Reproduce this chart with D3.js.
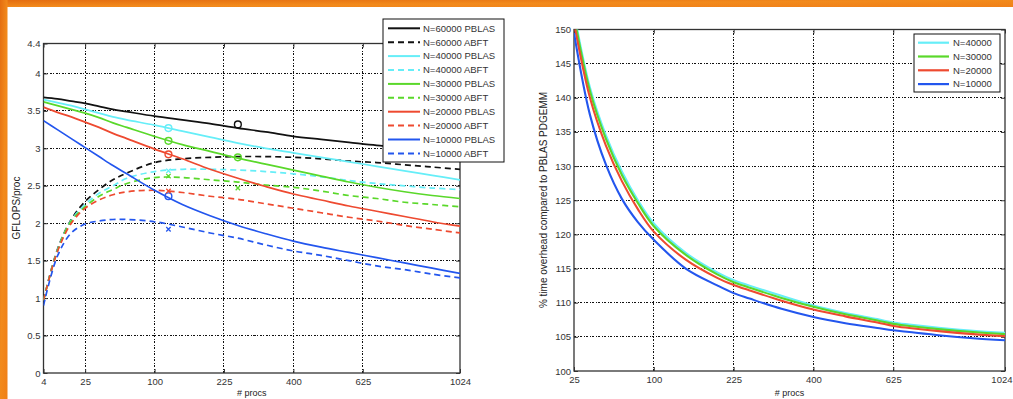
<!DOCTYPE html>
<html>
<head>
<meta charset="utf-8">
<script src="https://cdn.jsdelivr.net/npm/d3@7"></script>
<style>
  body { margin: 0; background: #fff; }
  svg { display: block; font-family: "Liberation Sans", Arial, sans-serif; }
  .axis text { font-size: 9.5px; fill: #333; }
  .axis .domain { display: none; }
  .axis line { stroke: #333; }
  .grid { stroke: #111; stroke-width: 1; stroke-dasharray: 2,1.5,1,1.5; shape-rendering: crispEdges; }
  .lbl { font-size: 9.5px; fill: #222; }
  .leg { font-size: 9.5px; fill: #333; }
</style>
</head>
<body>
<div id="chart"></div>
<script>
/* two matlab style panels: GFLOPS/proc and overhead vs # procs */

const height = 399,
    width = 1013;

// ---- left panel data (GFLOPS/proc) ----
const procs = [4, 9, 16, 25, 36, 49, 64, 100, 144, 196, 256, 324, 400, 484, 576, 676, 784, 900, 1024];
const xTicksL = [4, 25, 100, 225, 400, 625, 1024];
const yTicksL = [0, 0.5, 1, 1.5, 2, 2.5, 3, 3.5, 4, 4.4];

const pblas60000 = [3.68, 3.66, 3.63, 3.60, 3.56, 3.52, 3.49, 3.43, 3.38, 3.33, 3.27, 3.22, 3.16, 3.12, 3.08, 3.04, 3.01, 2.98, 2.95];
const abft60000  = [0.97, 1.65, 2.05, 2.29, 2.45, 2.58, 2.67, 2.81, 2.86, 2.88, 2.89, 2.89, 2.88, 2.86, 2.83, 2.81, 2.78, 2.75, 2.72];
const pblas40000 = [3.65, 3.61, 3.57, 3.52, 3.47, 3.42, 3.38, 3.31, 3.23, 3.15, 3.07, 3.00, 2.94, 2.88, 2.82, 2.76, 2.70, 2.64, 2.58];
const abft40000  = [0.97, 1.64, 2.04, 2.25, 2.40, 2.50, 2.60, 2.69, 2.72, 2.72, 2.71, 2.69, 2.66, 2.62, 2.57, 2.53, 2.50, 2.47, 2.45];
const pblas30000 = [3.62, 3.57, 3.52, 3.47, 3.41, 3.34, 3.28, 3.16, 3.05, 2.96, 2.87, 2.79, 2.71, 2.63, 2.55, 2.48, 2.42, 2.37, 2.33];
const abft30000  = [0.97, 1.63, 2.03, 2.22, 2.36, 2.45, 2.53, 2.61, 2.61, 2.58, 2.55, 2.51, 2.48, 2.43, 2.37, 2.33, 2.28, 2.25, 2.22];
const pblas20000 = [3.55, 3.48, 3.42, 3.35, 3.28, 3.20, 3.13, 2.99, 2.86, 2.72, 2.60, 2.49, 2.39, 2.31, 2.23, 2.16, 2.09, 2.02, 1.96];
const abft20000  = [0.97, 1.62, 2.00, 2.20, 2.31, 2.38, 2.42, 2.44, 2.41, 2.36, 2.32, 2.26, 2.20, 2.14, 2.08, 2.03, 1.97, 1.92, 1.87];
const pblas10000 = [3.37, 3.25, 3.13, 3.01, 2.89, 2.77, 2.66, 2.44, 2.25, 2.10, 1.97, 1.86, 1.76, 1.68, 1.61, 1.54, 1.47, 1.40, 1.33];
const abft10000  = [0.90, 1.56, 1.87, 1.99, 2.03, 2.05, 2.05, 2.02, 1.95, 1.87, 1.80, 1.71, 1.63, 1.57, 1.50, 1.43, 1.38, 1.32, 1.27];

// measured points (o = PBLAS, x = ABFT)
const circlePts = [[121, 3.27, "c"], [121, 3.10, "g"], [121, 2.92, "r"], [121, 2.36, "b"], [256, 3.32, "k"], [256, 2.88, "g"]];
const crossPts  = [[121, 2.70, "c"], [121, 2.63, "g"], [121, 2.43, "r"], [121, 1.92, "b"], [256, 2.47, "g"]];

// ---- right panel data (% overhead) ----
const procsR = [25, 36, 49, 64, 81, 100, 144, 196, 225, 256, 324, 400, 484, 576, 625, 676, 784, 900, 1024];
const xTicksR = [25, 100, 225, 400, 625, 1024];
const yTicksR = [100, 105, 110, 115, 120, 125, 130, 135, 140, 145, 150];

const ovh40000 = [152.5, 141.5, 134.5, 129.2, 125.0, 121.6, 117.3, 114.4, 113.3, 112.5, 111.0, 109.6, 108.5, 107.6, 107.1, 106.8, 106.3, 105.9, 105.6];
const ovh30000 = [152.0, 141.0, 134.0, 128.7, 124.6, 121.2, 117.0, 114.1, 113.0, 112.2, 110.7, 109.4, 108.3, 107.4, 106.9, 106.6, 106.1, 105.7, 105.4];
const ovh20000 = [151.0, 140.0, 133.0, 127.8, 123.7, 120.4, 116.3, 113.6, 112.6, 111.8, 110.3, 109.0, 108.0, 107.1, 106.6, 106.3, 105.8, 105.4, 105.1];
const ovh10000 = [149.5, 137.5, 130.2, 125.2, 121.8, 119.2, 115.0, 112.5, 111.4, 110.6, 109.1, 107.9, 107.0, 106.3, 105.96, 105.7, 105.2, 104.8, 104.5];

const col = { k: "#111111", c: "#66eef8", g: "#5ad82a", r: "#ee4a30", b: "#2356ee" };

const seriesL = [
  { name: "N=60000 PBLAS", v: pblas60000, c: "k", dash: false },
  { name: "N=60000 ABFT",  v: abft60000,  c: "k", dash: true },
  { name: "N=40000 PBLAS", v: pblas40000, c: "c", dash: false },
  { name: "N=40000 ABFT",  v: abft40000,  c: "c", dash: true },
  { name: "N=30000 PBLAS", v: pblas30000, c: "g", dash: false },
  { name: "N=30000 ABFT",  v: abft30000,  c: "g", dash: true },
  { name: "N=20000 PBLAS", v: pblas20000, c: "r", dash: false },
  { name: "N=20000 ABFT",  v: abft20000,  c: "r", dash: true },
  { name: "N=10000 PBLAS", v: pblas10000, c: "b", dash: false },
  { name: "N=10000 ABFT",  v: abft10000,  c: "b", dash: true }
];
const seriesR = [
  { name: "N=40000", v: ovh40000, c: "c" },
  { name: "N=30000", v: ovh30000, c: "g" },
  { name: "N=20000", v: ovh20000, c: "r" },
  { name: "N=10000", v: ovh10000, c: "b" }
];

const svg = d3.select("#chart")
    .append("svg")
    .attr("width", width)
    .attr("height", height)
    .attr("viewBox", [0, 0, width, height]);

// orange slide border
const defs = svg.append("defs");
const grad = defs.append("linearGradient").attr("id", "org").attr("x1", 0).attr("y1", 0).attr("x2", 1).attr("y2", 1);
grad.append("stop").attr("offset", "0%").attr("stop-color", "#e46d10");
grad.append("stop").attr("offset", "50%").attr("stop-color", "#f28a1c");
grad.append("stop").attr("offset", "100%").attr("stop-color", "#f08018");
svg.append("rect").attr("x", 0).attr("y", 0).attr("width", width).attr("height", 7).attr("fill", "url(#org)");
svg.append("rect").attr("x", 0).attr("y", 0).attr("width", 7.5).attr("height", height).attr("fill", "url(#org)");

// scales (x axis is spaced by sqrt of # procs)
const xL = d3.scaleSqrt().domain([4, 1024]).range([43.5, 460]);
const yL = d3.scaleLinear().domain([0, 4.4]).range([373, 43.5]);
const xR = d3.scaleSqrt().domain([25, 1024]).range([574, 1005]);
const yR = d3.scaleLinear().domain([100, 150]).range([371, 29.5]);

function panel(x, y, xt, yt, id) {
  let [x0, x1] = x.range(), [y0, y1] = y.range(); // y0 bottom, y1 top
  let g = svg.append("g");

  defs.append("clipPath").attr("id", id)
    .append("rect").attr("x", x0).attr("y", y1).attr("width", x1 - x0).attr("height", y0 - y1);

  // dotted grid
  g.selectAll(".gx").data(xt.slice(1, -1)).join("line")
    .attr("class", "grid")
    .attr("x1", d => x(d)).attr("x2", d => x(d)).attr("y1", y0).attr("y2", y1);
  g.selectAll(".gy").data(yt.filter(d => d !== y.domain()[0] && d !== y.domain()[1])).join("line")
    .attr("class", "grid")
    .attr("x1", x0).attr("x2", x1).attr("y1", d => y(d)).attr("y2", d => y(d));

  // axes with inward ticks
  let bottom = g.append("g").attr("class", "axis").attr("transform", `translate(0,${y0})`)
    .call(d3.axisBottom(x).tickValues(xt).tickSize(-4).tickPadding(5).tickFormat(d => d));
  g.append("g").attr("class", "axis").attr("transform", `translate(0,${y1})`)
    .call(d3.axisTop(x).tickValues(xt).tickSize(-4).tickFormat(""));
  g.append("g").attr("class", "axis").attr("transform", `translate(${x0},0)`)
    .call(d3.axisLeft(y).tickValues(yt).tickSize(-4).tickPadding(3).tickFormat(d => d));
  g.append("g").attr("class", "axis").attr("transform", `translate(${x1},0)`)
    .call(d3.axisRight(y).tickValues(yt).tickSize(-4).tickFormat(""));

  g.append("rect")
    .attr("x", x0).attr("y", y1).attr("width", x1 - x0).attr("height", y0 - y1)
    .attr("fill", "none").attr("stroke", "#333").attr("stroke-width", 1.3);
  return bottom;
}

// ---------- left panel ----------
panel(xL, yL, xTicksL, yTicksL, "clipL");

let lineL = d3.line()
    .x((d, i) => xL(procs[i]))
    .y(d => yL(d))
    .curve(d3.curveCatmullRom.alpha(0.5));

svg.append("g").attr("clip-path", "url(#clipL)")
  .selectAll("path").data(seriesL).join("path")
    .attr("d", d => lineL(d.v))
    .attr("fill", "none")
    .attr("stroke", d => col[d.c])
    .attr("stroke-width", 1.7)
    .attr("stroke-dasharray", d => d.dash ? "6,4" : null);

svg.append("g").selectAll("circle").data(circlePts).join("circle")
    .attr("cx", d => xL(d[0])).attr("cy", d => yL(d[1])).attr("r", 3.4)
    .attr("fill", "none").attr("stroke", d => col[d[2]]).attr("stroke-width", 1.4);

svg.append("g").selectAll("path").data(crossPts).join("path")
    .attr("d", d => {
      let cx = xL(d[0]), cy = yL(d[1]), s = 2.2;
      return `M${cx - s},${cy - s}L${cx + s},${cy + s}M${cx - s},${cy + s}L${cx + s},${cy - s}`;
    })
    .attr("stroke", d => col[d[2]]).attr("stroke-width", 1.3);

svg.append("text").attr("class", "lbl")
  .attr("text-anchor", "middle")
  .attr("x", (xL.range()[0] + xL.range()[1]) / 2).attr("y", 396)
  .style("font-size", "9px")
  .text("# procs");

svg.append("text").attr("class", "lbl")
  .attr("text-anchor", "middle")
  .attr("transform", `translate(20,208) rotate(-90)`)
  .style("font-size", "10px")
  .text("GFLOPS/proc");

// legend (drawn over the lines)
let legL = svg.append("g").attr("transform", "translate(383,19)");
legL.append("rect").attr("width", 121).attr("height", 143)
  .attr("fill", "#fff").attr("stroke", "#111").attr("stroke-width", 1);
let itemL = legL.selectAll(".it").data(seriesL).join("g")
  .attr("transform", (d, i) => `translate(0,${9.3 + i * 13.9})`);
itemL.append("line").attr("x1", 5).attr("x2", 37)
  .attr("stroke", d => col[d.c]).attr("stroke-width", 2)
  .attr("stroke-dasharray", d => d.dash ? "6,4" : null);
itemL.append("text").attr("class", "leg").attr("x", 40).attr("dy", "0.35em").text(d => d.name);

// ---------- right panel ----------
let bottomR = panel(xR, yR, xTicksR, yTicksR, "clipR");

// 1024 would run off the page edge, so right-align that one label
bottomR.selectAll(".tick text").filter(d => d === 1024)
  .attr("text-anchor", "end").attr("x", 7);

let lineR = d3.line()
    .x((d, i) => xR(procsR[i]))
    .y(d => yR(d))
    .curve(d3.curveCatmullRom.alpha(0.5));

svg.append("g").attr("clip-path", "url(#clipR)")
  .selectAll("path").data(seriesR).join("path")
    .attr("d", d => lineR(d.v))
    .attr("fill", "none")
    .attr("stroke", d => col[d.c])
    .attr("stroke-width", 2.1);

svg.append("text").attr("class", "lbl")
  .attr("text-anchor", "middle")
  .attr("x", (xR.range()[0] + xR.range()[1]) / 2).attr("y", 396)
  .style("font-size", "9px")
  .text("# procs");

svg.append("text").attr("class", "lbl")
  .attr("text-anchor", "middle")
  .attr("transform", `translate(547,200) rotate(-90)`)
  .style("font-size", "10px")
  .text("% time overhead compared to PBLAS PDGEMM");

let legR = svg.append("g").attr("transform", "translate(914,34)");
legR.append("rect").attr("width", 86).attr("height", 58)
  .attr("fill", "#fff").attr("stroke", "#111").attr("stroke-width", 1);
let itemR = legR.selectAll(".it").data(seriesR).join("g")
  .attr("transform", (d, i) => `translate(0,${8.7 + i * 13.8})`);
itemR.append("line").attr("x1", 4).attr("x2", 35)
  .attr("stroke", d => col[d.c]).attr("stroke-width", 2.2);
itemR.append("text").attr("class", "leg").attr("x", 39).attr("dy", "0.35em").text(d => d.name);
</script>
</body>
</html>
